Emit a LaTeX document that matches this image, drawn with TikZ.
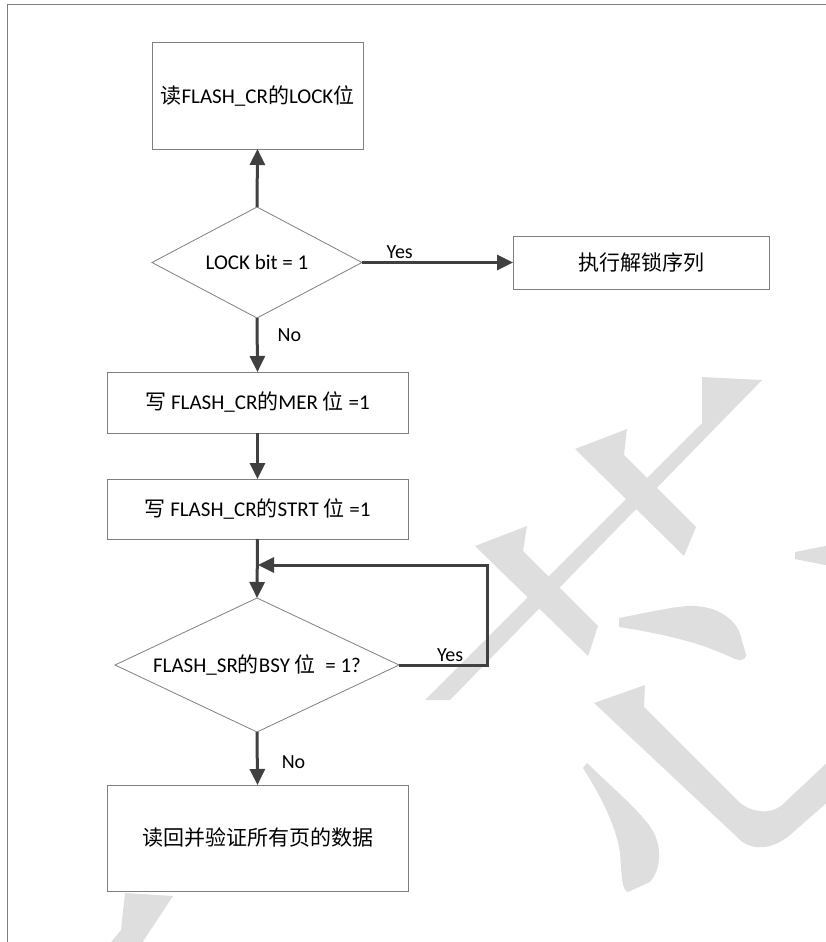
\documentclass[tikz,border=0pt]{standalone}
\usepackage{fontspec}
\setmainfont{Carlito}
\newfontfamily\cjk{Noto Sans CJK SC}
\usetikzlibrary{arrows.meta, positioning, shapes.geometric}
\newcommand{\zh}[1]{{\cjk #1}}
\definecolor{framegray}{HTML}{7F7F7F}
\definecolor{arrgray}{HTML}{404040}
\definecolor{markgray}{HTML}{DEDEDE}

\begin{document}
\begin{tikzpicture}[
  x=1pt, y=-1pt,
  box/.style={draw=framegray, line width=1pt, rectangle, inner sep=0pt, outer sep=0pt,
    font=\fontsize{21}{25}\selectfont},
  dec/.style={draw=framegray, line width=0.8pt, diamond, inner sep=0pt, outer sep=0pt,
    font=\fontsize{21}{25}\selectfont},
  arr/.style={-{Triangle[length=16pt, width=15pt]}, line width=3pt, draw=arrgray},
  lbl/.style={font=\fontsize{20}{24}\selectfont, inner sep=2pt},
  wm/.style={fill=markgray, draw=none}
]
  \useasboundingbox (0,0) rectangle (826,942);

  % watermark and frame
  \begin{scope}
    \clip (0,0) rectangle (826,942);
    \fill[wm] (425,700) -- (702,423) -- (702,377) -- (762,380) -- (450,700) -- cycle;
    \fill[wm] (575,449) -- (627,429) -- (624,455) -- (696,527) -- (684,556) -- cycle;
    \fill[wm] (475,546) -- (527,526) -- (523,551) -- (598,626) -- (588,656) -- cycle;
    \fill[wm] (619,618) .. controls (650,612) and (680,605) .. (695,606)
      .. controls (720,607) and (738,622) .. (741,637) -- (746,655)
      .. controls (746,660) and (740,661) .. (735,659)
      .. controls (715,650) and (690,638) .. (619,627) -- cycle;
    \fill[wm] (594,703) -- (645,685) -- (644,707) -- (737,800)
      .. controls (750,813) and (770,815) .. (782,805) -- (830,760) -- (830,800)
      -- (790,835) .. controls (770,852) and (748,850) .. (737,837) -- cycle;
    \fill[wm] (583,768) -- (587,763) .. controls (620,795) and (645,815) .. (655,835)
      .. controls (662,852) and (660,870) .. (650,882) -- (628,892)
      .. controls (622,890) and (622,880) .. (620,853)
      .. controls (616,825) and (600,795) .. cycle;
    \fill[wm] (795,552) -- (830,545) -- (830,566) -- (795,559) -- cycle;
    \fill[wm] (125,893) -- (173,896) -- (140,946) -- (108,946) -- (121,930) -- cycle;
    \draw[framegray, line width=1pt] (7,950) |- (840,5);
  \end{scope}

  % flow
  \node[box, minimum width=211pt, minimum height=106pt] (rd) at (257.5,96)
    {\zh{读}FLASH\_CR\zh{的}LOCK\zh{位}};
  \node[dec, aspect=1.9, minimum width=210pt, minimum height=111pt] (lock) at (257,262.5)
    {LOCK bit = 1};
  \node[box, minimum width=256pt, minimum height=53pt] (unlock) at (641,262.5)
    {\zh{执行解锁序列}};
  \node[box, minimum width=301pt, minimum height=61pt] (mer) at (257.5,402.5)
    {\zh{写} FLASH\_CR\zh{的}MER \zh{位} =1};
  \node[box, minimum width=301pt, minimum height=60pt] (strt) at (257.5,509)
    {\zh{写} FLASH\_CR\zh{的}STRT \zh{位} =1};
  \node[dec, aspect=2.12, minimum width=284pt, minimum height=134pt] (bsy) at (257,665)
    {FLASH\_SR\zh{的}BSY \zh{位}\ \ = 1?};
  \node[box, minimum width=301pt, minimum height=106pt] (verify) at (257.5,838)
    {\zh{读回并验证所有页的数据}};
  \coordinate (merge) at (258,565);
  \coordinate (lp) at (487,565);

  \draw[arr] (lock.north) -- (rd.south);
  \draw[arr] (lock.east) -- node[lbl, above, pos=0.25] {Yes} (unlock.west);
  \draw[arr] (lock.south) -- node[lbl, right=17pt, pos=0.31] {No} (mer.north);
  \draw[arr] (mer.south) -- (strt.north);
  \draw[arr] (strt.south) -- (bsy.north);
  \draw[arr] (bsy.east) -| node[lbl, above, pos=0.29] {Yes} (lp) -- (merge);
  \draw[arr] (bsy.south) -- node[lbl, right=21pt, pos=0.57] {No} (verify.north);
\end{tikzpicture}
\end{document}
